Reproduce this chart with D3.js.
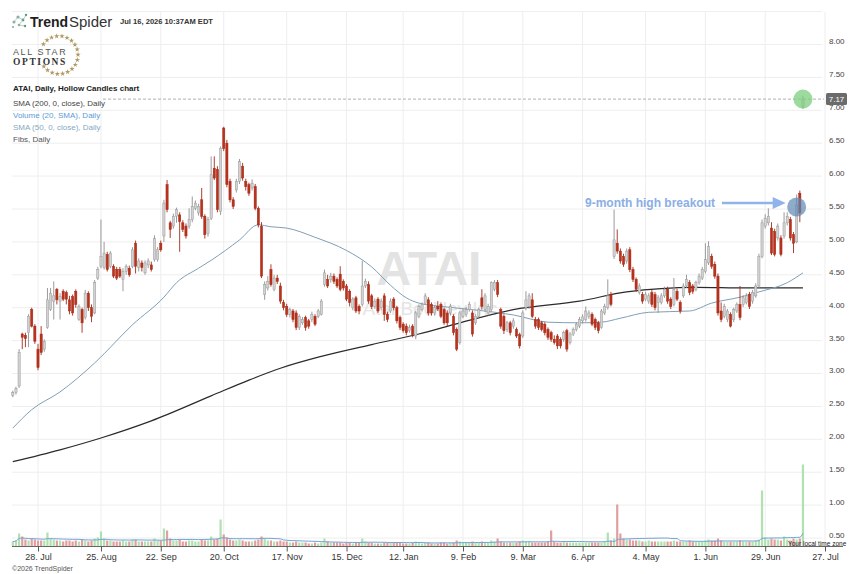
<!DOCTYPE html>
<html><head><meta charset="utf-8">
<script src="https://cdn.jsdelivr.net/npm/d3@7"></script>
<style>body{margin:0;background:#fff;} svg{display:block;font-family:"Liberation Sans",Arial,Helvetica,sans-serif;}</style>
</head><body><svg id="c" width="860" height="574"></svg>
<script>
// ---- DATA ----
// daily candles [open, high, low, close], Jul 16 2025 .. Jul 16 2026
const candles = [
[2.67,2.74,2.64,2.71],[2.71,2.80,2.68,2.77],[2.81,3.37,2.78,3.32],[3.60,3.62,3.37,3.55],[3.58,3.62,3.40,3.53],
[3.62,3.90,3.40,3.87],[3.97,4.00,3.70,3.72],[3.72,3.75,3.45,3.49],[3.37,3.45,3.05,3.09],[3.60,3.72,3.28,3.32],
[3.37,3.52,3.33,3.49],[3.70,4.30,3.68,4.12],[3.97,4.30,3.95,4.22],[4.10,4.40,3.82,4.18],[4.28,4.30,4.05,4.12],
[4.10,4.22,3.82,4.17],[4.25,4.28,4.10,4.13],[4.23,4.26,4.05,4.13],[4.12,4.18,3.90,3.95],[4.17,4.20,3.88,3.92],
[4.25,4.28,4.00,4.05],[3.82,4.05,3.80,4.02],[3.97,4.00,3.62,3.77],[3.85,4.27,3.82,4.22],[4.22,4.25,3.95,4.00],
[4.00,4.05,3.78,3.87],[3.92,4.42,3.90,4.38],[4.45,4.62,4.42,4.58],[4.63,5.34,4.60,4.78],[4.61,5.00,4.58,4.83],
[4.81,4.85,4.55,4.58],[4.63,4.86,4.60,4.83],[4.63,4.66,4.45,4.48],[4.58,4.62,4.42,4.45],[4.58,4.62,4.45,4.48],
[4.43,4.60,4.25,4.55],[4.55,4.66,4.50,4.63],[4.60,4.64,4.47,4.50],[4.63,4.92,4.60,4.88],[4.98,5.02,4.52,4.63],
[4.61,4.75,4.55,4.71],[4.68,4.72,4.55,4.61],[4.53,4.72,4.50,4.68],[4.65,4.75,4.60,4.71],[4.65,4.70,4.55,4.58],
[4.73,5.10,4.70,5.05],[4.73,4.92,4.70,4.88],[4.98,5.02,4.85,4.88],[5.09,5.64,5.00,5.59],[5.87,5.94,5.45,5.49],
[5.29,5.32,5.06,5.19],[5.24,5.43,5.20,5.39],[5.39,5.52,5.29,5.49],[5.41,5.45,4.85,5.31],[5.29,5.33,5.15,5.19],
[5.24,5.28,5.05,5.09],[5.24,5.51,5.20,5.34],[5.34,5.69,5.30,5.54],[5.51,5.63,5.48,5.59],[5.44,5.58,5.40,5.54],
[5.64,5.82,5.35,5.39],[5.39,5.42,5.05,5.11],[5.13,5.38,5.08,5.34],[5.36,6.30,5.33,6.02],[6.12,6.30,5.94,5.97],
[6.10,6.15,5.45,5.49],[5.46,6.45,5.41,6.42],[6.73,6.75,6.38,6.42],[6.50,6.55,5.83,5.87],[5.92,5.96,5.60,5.64],
[5.64,5.68,5.50,5.54],[5.79,5.96,5.75,5.92],[5.92,6.26,5.88,6.22],[6.15,6.20,5.93,5.97],[5.92,5.96,5.78,5.84],
[5.87,5.90,5.70,5.74],[5.82,5.95,5.78,5.89],[5.84,5.88,5.48,5.51],[5.51,5.54,5.22,5.26],[5.24,5.30,4.45,4.48],
[4.20,4.40,4.12,4.35],[4.30,4.48,4.26,4.40],[4.58,4.66,4.32,4.35],[4.28,4.50,4.25,4.45],[4.45,4.50,4.36,4.40],
[4.33,4.38,4.06,4.10],[4.08,4.12,3.96,4.00],[4.02,4.06,3.86,3.90],[3.90,4.00,3.85,3.97],[3.95,3.98,3.78,3.82],
[3.92,3.96,3.66,3.70],[3.70,3.90,3.66,3.87],[3.77,3.86,3.74,3.82],[3.85,3.88,3.65,3.70],[3.80,3.83,3.68,3.72],
[3.82,3.94,3.78,3.90],[3.87,3.90,3.72,3.75],[3.87,3.98,3.84,3.95],[3.90,4.13,3.88,4.10],[4.35,4.58,4.32,4.53],
[4.43,4.50,4.30,4.33],[4.43,4.53,4.38,4.48],[4.48,4.52,4.36,4.40],[4.43,4.46,4.30,4.33],[4.51,4.63,4.25,4.28],
[4.40,4.43,4.26,4.30],[4.33,4.36,4.10,4.13],[4.25,4.28,4.02,4.08],[4.00,4.16,3.96,4.13],[4.15,4.18,3.92,3.95],
[4.02,4.05,3.90,3.95],[4.05,4.71,4.02,4.33],[4.33,4.44,4.30,4.40],[4.35,4.40,4.06,4.10],[4.18,4.21,3.98,4.02],
[4.02,4.14,3.98,4.10],[4.13,4.16,3.92,3.95],[4.00,4.14,3.96,4.10],[4.18,4.22,3.80,3.90],[3.90,3.94,3.78,3.82],
[3.95,4.14,3.92,4.10],[4.13,4.16,3.96,4.00],[4.00,4.03,3.76,3.80],[3.85,3.88,3.66,3.70],[3.75,3.78,3.62,3.65],
[3.72,3.76,3.58,3.62],[3.65,3.74,3.62,3.70],[3.72,3.75,3.55,3.59],[3.57,3.95,3.52,3.92],[3.87,4.05,3.84,4.02],
[3.97,4.08,3.94,4.05],[4.07,4.22,4.04,4.18],[4.12,4.16,3.88,3.92],[4.05,4.08,3.88,3.92],[3.92,4.04,3.88,4.00],
[4.02,4.10,3.95,3.98],[4.05,4.08,3.84,3.87],[3.97,4.00,3.74,3.77],[3.92,3.96,3.72,3.77],[3.92,4.06,3.88,4.02],
[3.87,3.90,3.58,3.62],[3.67,3.70,3.34,3.37],[3.47,3.95,3.44,3.92],[3.87,3.99,3.84,3.95],[3.90,4.01,3.86,3.97],
[3.97,4.09,3.94,4.05],[3.92,3.96,3.56,3.60],[3.77,3.90,3.74,3.87],[3.87,4.00,3.84,3.97],[4.15,4.28,3.97,4.02],
[3.97,4.22,3.94,4.18],[3.92,4.06,3.88,4.02],[3.97,4.40,3.94,4.38],[4.28,4.42,4.25,4.38],[4.38,4.42,4.16,4.20],
[3.97,4.00,3.68,3.72],[3.87,3.90,3.60,3.65],[3.67,3.80,3.63,3.77],[3.77,3.80,3.58,3.62],[3.72,3.84,3.68,3.80],
[3.67,3.70,3.54,3.57],[3.59,3.62,3.38,3.42],[3.57,3.96,3.54,3.92],[4.00,4.25,3.96,4.12],[4.02,4.22,3.98,4.18],
[4.12,4.22,3.84,3.87],[3.82,3.86,3.68,3.72],[3.82,3.85,3.66,3.70],[3.77,3.80,3.64,3.67],[3.75,3.78,3.58,3.62],
[3.67,3.70,3.51,3.55],[3.62,3.65,3.48,3.52],[3.52,3.58,3.44,3.47],[3.57,3.60,3.37,3.42],[3.52,3.55,3.38,3.42],
[3.52,3.65,3.48,3.62],[3.65,3.68,3.33,3.37],[3.47,3.63,3.44,3.60],[3.60,3.70,3.57,3.67],[3.67,3.78,3.64,3.75],
[3.72,3.86,3.69,3.82],[3.80,3.90,3.76,3.86],[3.82,4.02,3.79,3.95],[3.87,3.96,3.83,3.92],[3.90,3.93,3.72,3.75],
[3.82,3.85,3.66,3.70],[3.77,3.80,3.61,3.65],[3.70,3.98,3.68,3.95],[3.92,4.06,3.89,4.02],[4.00,4.43,3.97,4.18],
[4.20,4.24,4.02,4.05],[4.78,5.49,4.74,5.03],[4.98,5.19,4.82,4.86],[4.86,4.90,4.67,4.71],[4.78,4.82,4.62,4.66],
[4.71,4.90,4.67,4.86],[4.88,4.92,4.54,4.58],[4.58,4.62,4.39,4.43],[4.43,4.46,4.24,4.28],[4.23,4.37,4.20,4.33],
[4.20,4.24,4.06,4.10],[4.13,4.24,4.10,4.20],[4.10,4.22,4.06,4.18],[4.23,4.27,4.01,4.05],[4.20,4.24,3.96,4.00],
[4.08,4.19,3.92,4.15],[4.08,4.22,4.05,4.18],[4.18,4.32,4.15,4.28],[4.28,4.32,4.06,4.10],[4.13,4.16,3.98,4.02],
[4.05,4.45,4.02,4.28],[4.25,4.29,4.10,4.13],[4.08,4.11,3.91,3.95],[4.18,4.37,4.15,4.33],[4.33,4.50,4.30,4.43],
[4.38,4.42,4.19,4.23],[4.33,4.36,4.21,4.25],[4.28,4.41,4.25,4.38],[4.38,4.52,4.35,4.48],[4.45,4.62,4.42,4.58],
[4.55,4.98,4.52,4.73],[4.68,5.01,4.65,4.93],[4.78,4.82,4.59,4.63],[4.66,4.70,4.44,4.48],[4.48,4.52,3.88,3.92],
[3.95,4.08,3.78,3.82],[3.87,4.06,3.84,4.02],[3.82,3.98,3.78,3.95],[3.90,3.93,3.70,3.72],[3.82,4.00,3.78,3.97],
[3.95,4.08,3.92,4.05],[4.05,4.33,3.81,3.85],[4.05,4.19,4.01,4.15],[4.08,4.22,4.05,4.18],[4.20,4.24,3.98,4.02],
[4.10,4.27,4.06,4.23],[4.18,4.37,4.15,4.33],[4.33,4.82,4.30,4.78],[4.78,5.34,4.75,5.29],[5.24,5.42,5.20,5.36],
[5.29,5.51,5.25,5.39],[5.21,5.30,4.80,4.83],[5.16,5.20,4.78,4.81],[5.06,5.28,5.02,5.24],[5.06,5.10,4.78,4.81],
[5.09,5.45,5.05,5.29],[5.29,5.45,5.25,5.39],[5.34,5.38,5.02,5.06],[5.11,5.15,4.83,4.98],[5.00,5.72,4.98,5.56],
[5.74,5.78,5.30,5.44],[7.05,7.22,7.02,7.17]
];
// daily volume (millions)
const volumes = [
5,6,13,10,7,6,8,7,6,6, 6,14,8,7,6,6,5,6,6,5, 6,5,7,6,5,6,8,9,15,8, 6,6,5,5,5,6,5,5,7,7,
5,5,5,5,5,8,6,6,18,16, 8,6,6,7,5,5,6,6,5,5, 7,6,6,10,7,8,27,12,9,7, 6,6,7,6,5,5,5,6,7,10,
8,6,6,5,5,6,5,5,4,4, 5,4,4,4,3,3,4,3,4,8, 5,4,4,4,4,3,4,4,3,4, 4,8,5,4,4,3,3,3,4,4,
4,4,4,4,3,3,3,4,5,4, 3,4,4,3,3,3,4,4,3,4, 4,6,5,4,4,4,5,4,4,5, 4,4,6,5,8,5,4,4,4,4,
4,5,6,5,5,4,4,4,4,4, 5,16,5,4,4,5,4,4,4,4, 4,4,4,4,4,4,4,4,5,14, 6,8,42,13,8,7,7,6,6,6,
5,5,6,5,5,5,5,5,5,5, 6,5,5,5,5,6,5,5,5,5, 6,7,6,6,8,6,5,5,5,5, 5,6,5,5,5,5,6,7,56,9,
7,8,7,7,6,10,7,6,8,7, 8,82
];
const sma200Idx = [0,15,28,44,63,75,85,98,114,129,142,159,180,195,217,233,251];
const sma200Val = [1.66,1.84,2.02,2.28,2.66,2.90,3.08,3.26,3.44,3.60,3.77,3.97,4.10,4.24,4.31,4.30,4.30];
const sma50Idx = [0,6,15,26,38,48,52,59,63,72,78,82,87,96,106,114,120,125,129,138,148,159,170,180,187,193,202,215,222,231,237,246,251];
const sma50Val = [2.17,2.45,2.72,3.16,3.74,4.16,4.38,4.60,4.72,5.03,5.26,5.23,5.21,5.07,4.87,4.62,4.34,4.15,4.07,4.01,3.96,3.89,3.78,3.77,3.78,3.84,3.93,3.95,4.07,4.16,4.24,4.38,4.53];
const tickIdx = [8,28,47,67,87,106,124,143,162,181,201,220,239,258];
const tickLabels = ["28. Jul","25. Aug","22. Sep","20. Oct","17. Nov","15. Dec","12. Jan","9. Feb","9. Mar","6. Apr","4. May","1. Jun","29. Jun","27. Jul"];
const priceTicks = [8.0,7.5,7.0,6.5,6.0,5.5,5.0,4.5,4.0,3.5,3.0,2.5,2.0,1.5,1.0,0.5];
const gridPrices = [8.5,8.0,7.5,7.0,6.5,6.0,5.5,5.0,4.5,4.0,3.5,3.0,2.5,2.0,1.5,1.0,0.5];
const lastPrice = 7.17;
const breakout = {idx: 249, price: 5.53, label: "9-month high breakout"};
const legend = [
  {t:"ATAI, Daily, Hollow Candles chart", c:"#222", w:600},
  {t:"SMA (200, 0, close), Daily", c:"#444", w:400},
  {t:"Volume (20, SMA), Daily", c:"#5b9bd5", w:400},
  {t:"SMA (50, 0, close), Daily", c:"#85a9c4", w:400},
  {t:"Fibs, Daily", c:"#555", w:400}
];

// ---- SCALES ----
const x = d3.scaleLinear().domain([8, 258]).range([38, 825]);
const y = d3.scaleLinear().domain([0.5, 8]).range([538, 44.5]);
const vy = d3.scaleLinear().domain([0, 82]).range([546.5, 464.5]);
const svg = d3.select("#c");

// grid
svg.append("g").selectAll("line").data(gridPrices).join("line")
  .attr("x1", 12).attr("x2", 822).attr("y1", d => y(d)).attr("y2", d => y(d))
  .attr("stroke", "#eeeeee").attr("stroke-width", 1);
svg.append("g").selectAll("line").data(tickIdx).join("line")
  .attr("x1", d => x(d)).attr("x2", d => x(d)).attr("y1", 12).attr("y2", 546)
  .attr("stroke", "#eeeeee").attr("stroke-width", 1);

// watermark
svg.append("text").attr("x", 429).attr("y", 285).attr("text-anchor", "middle")
  .attr("font-size", 48).attr("font-weight", 700).attr("fill", "#e3e3e3").text("ATAI");
svg.append("text").attr("x", 430).attr("y", 315).attr("text-anchor", "middle")
  .attr("font-size", 19).attr("fill", "#e5e5e5").text("Atai Beckley Inc");

// moving averages
const line = d3.line().curve(d3.curveMonotoneX);
svg.append("path").attr("d", line(sma200Idx.map((d, i) => [x(d), y(sma200Val[i])])))
  .attr("fill", "none").attr("stroke", "#2b2b2b").attr("stroke-width", 1.2);
svg.append("path").attr("d", line(sma50Idx.map((d, i) => [x(d), y(sma50Val[i])])))
  .attr("fill", "none").attr("stroke", "#7f9fb6").attr("stroke-width", 1);

// volume
const up = d => d[3] >= d[0];
svg.append("g").selectAll("rect").data(volumes).join("rect")
  .attr("x", (d, i) => x(i) - 1.1).attr("width", 2.2)
  .attr("y", d => vy(d)).attr("height", d => vy(0) - vy(d))
  .attr("fill", (d, i) => up(candles[i]) ? "#a3dba3" : "#dc8e8e").attr("opacity", 0.85);
const volSma = volumes.map((v, i) => d3.mean(volumes.slice(Math.max(0, i - 19), i + 1)));
svg.append("path").attr("d", line(volSma.map((v, i) => [x(i), vy(v)])))
  .attr("fill", "none").attr("stroke", "#6fa3d6").attr("stroke-width", 1);

// candles
const cg = svg.append("g");
cg.selectAll("line").data(candles).join("line")
  .attr("x1", (d, i) => x(i)).attr("x2", (d, i) => x(i))
  .attr("y1", d => y(d[1])).attr("y2", d => y(d[2]))
  .attr("stroke", d => up(d) ? "#8f8f8f" : "#a52a18").attr("stroke-width", 0.9);
cg.selectAll("rect").data(candles).join("rect")
  .attr("x", (d, i) => x(i) - 1.1).attr("width", 2.2)
  .attr("y", d => y(Math.max(d[0], d[3])))
  .attr("height", d => Math.max(0.8, Math.abs(y(d[0]) - y(d[3]))))
  .attr("fill", d => up(d) ? "#d2d2d2" : "#b8321c")
  .attr("stroke", d => up(d) ? "#9a9a9a" : "#a52a18").attr("stroke-width", 0.5);

// last price line + marker
const ly = y(lastPrice);
svg.append("line").attr("x1", 103).attr("x2", 824).attr("y1", ly).attr("y2", ly)
  .attr("stroke", "#9a9a9a").attr("stroke-dasharray", "3,2").attr("stroke-width", 0.8);
svg.append("circle").attr("cx", x(candles.length - 1)).attr("cy", ly).attr("r", 9.5)
  .attr("fill", "#7ccd7c").attr("opacity", 0.75);

// breakout annotation
const bx = x(breakout.idx), by = y(breakout.price);
svg.append("circle").attr("cx", bx).attr("cy", by).attr("r", 9.5).attr("fill", "#5f88b3").attr("opacity", 0.7);
svg.append("line").attr("x1", 722).attr("x2", bx - 22).attr("y1", by - 4).attr("y2", by - 4)
  .attr("stroke", "#8fb3ea").attr("stroke-width", 2.5);
svg.append("path").attr("d", `M${bx - 24},${by - 10} L${bx - 11},${by - 4} L${bx - 24},${by + 2} Z`).attr("fill", "#8fb3ea");
svg.append("text").attr("x", 715).attr("y", by - 0.5).attr("text-anchor", "end")
  .attr("font-size", 12).attr("font-weight", 700).attr("fill", "#8aaee6").text(breakout.label);

// bottom axis
svg.append("line").attr("x1", 12).attr("x2", 843).attr("y1", 546.5).attr("y2", 546.5).attr("stroke", "#666").attr("stroke-width", 1);
const xa = svg.append("g").attr("transform", "translate(0,546.5)")
  .call(d3.axisBottom(x).tickValues(tickIdx).tickFormat((d, i) => tickLabels[i]).tickSize(5).tickSizeOuter(0));
xa.select(".domain").remove();
xa.selectAll("line").attr("stroke", "#555");
xa.selectAll("text").attr("font-size", 9).attr("fill", "#333").attr("dy", "0.6em")
  .attr("font-family", "Liberation Sans, Arial, sans-serif");

// right axis
const ya = svg.append("g").attr("transform", "translate(829,0)")
  .call(d3.axisRight(y).tickValues(priceTicks).tickFormat(d3.format(".2f")).tickSize(0));
ya.select(".domain").remove();
ya.selectAll("text").attr("x", 0).attr("dy", "-0.6").attr("font-size", 8).attr("fill", "#444")
  .attr("font-family", "Liberation Sans, Arial, sans-serif");

// last price box
svg.append("rect").attr("x", 826).attr("y", ly - 6).attr("width", 21).attr("height", 12).attr("rx", 1.5).attr("fill", "#6b6b6b");
svg.append("text").attr("x", 836.5).attr("y", ly + 3).attr("text-anchor", "middle").attr("font-size", 8)
  .attr("fill", "#fff").text(lastPrice.toFixed(2));

// legend
const lgY = [88, 103, 115, 127, 139];
svg.append("g").selectAll("text").data(legend).join("text")
  .attr("x", 13).attr("y", (d, i) => lgY[i] + 3).attr("font-size", 8)
  .attr("font-weight", d => d.w).attr("fill", d => d.c).text(d => d.t);

// header
const logo = svg.append("g");
[[14,22,1.5],[18,17,1.6],[23,20,1.4],[19,25,1.3],[26,15,1.2],[13,27,1.1],[25,26,1.2]].forEach(p =>
  logo.append("circle").attr("cx", p[0]).attr("cy", p[1]).attr("r", p[2]).attr("fill", p[0] > 20 ? "#4f9a7c" : "#8bb0a0"));
logo.append("path").attr("d", "M14,22 L18,17 L23,20 L19,25 M23,20 L26,15 M19,25 L25,26").attr("stroke", "#8bb0a0").attr("stroke-width", 0.6).attr("fill", "none");
svg.append("text").attr("x", 30).attr("y", 27).attr("font-size", 14).attr("font-weight", 700).attr("fill", "#1e1e1e").text("Trend");
svg.append("text").attr("x", 69).attr("y", 27).attr("font-size", 15).attr("font-weight", 400).attr("fill", "#333").text("Spider");
svg.append("text").attr("x", 120).attr("y", 24).attr("font-size", 8).attr("font-weight", 600).attr("fill", "#333")
  .attr("textLength", 93).attr("lengthAdjust", "spacingAndGlyphs").text("Jul 16, 2026 10:37AM EDT");

// All Star Options logo
const star = d3.symbol().type(d3.symbolStar).size(9);
d3.range(-145, 150, 16).forEach(a => {
  const r = a * Math.PI / 180;
  svg.append("path").attr("d", star)
    .attr("transform", `translate(${59 + 19 * Math.cos(r)},${55 + 19 * Math.sin(r)})`)
    .attr("fill", "#b09a64");
});
svg.append("text").attr("x", 13).attr("y", 55).attr("font-size", 9).attr("letter-spacing", 1.6).attr("fill", "#555").attr("font-weight", 300).text("ALL STAR");
svg.append("text").attr("x", 13).attr("y", 65).attr("font-size", 9.5).attr("letter-spacing", 1.6).attr("font-family", "Liberation Serif, serif").attr("font-weight", 700).attr("fill", "#333").text("OPTIONS");

// footer
svg.append("text").attr("x", 12).attr("y", 571).attr("font-size", 7).attr("fill", "#555").text("©2026 TrendSpider");
svg.append("text").attr("x", 788).attr("y", 545.5).attr("font-size", 6.5).attr("fill", "#222").text("Your local time zone");
</script></body></html>
